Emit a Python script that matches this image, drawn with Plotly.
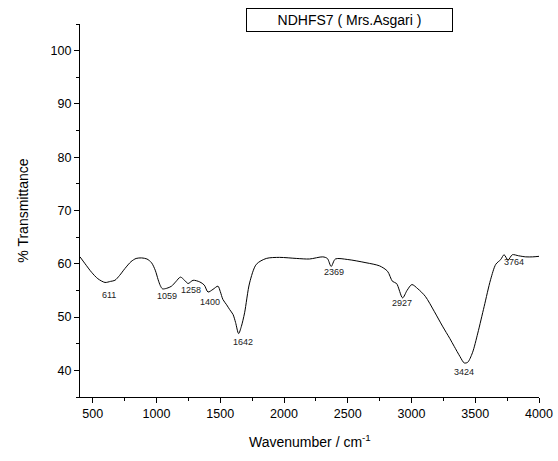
import plotly.graph_objects as go

# Spectrum (wavenumber cm^-1, % transmittance)
wavenumber = [400, 440, 491, 540, 596, 640, 674, 710, 752, 800, 840, 883, 925, 961,
              990, 1013, 1030, 1047, 1080, 1118, 1150, 1188, 1220, 1248, 1287, 1339,
              1375, 1404, 1443, 1482, 1500, 1521, 1550, 1574, 1600, 1620, 1644, 1665,
              1691, 1730, 1783, 1861, 1965, 2100, 2200, 2304, 2340, 2370, 2403, 2500,
              2643, 2750, 2812, 2851, 2883, 2930, 2965, 3003, 3050, 3108, 3180, 3243,
              3300, 3335, 3380, 3413, 3440, 3478, 3520, 3570, 3620, 3661, 3700, 3726,
              3757, 3791, 3840, 3896, 3950, 4000]
transmittance = [61.3, 60.0, 58.4, 57.2, 56.5, 56.7, 56.9, 57.8, 59.1, 60.4, 61.0, 61.1,
                 60.9, 60.2, 58.8, 57.0, 55.9, 55.3, 55.4, 55.8, 56.6, 57.5, 56.9, 56.3,
                 56.9, 56.6, 56.0, 54.7, 55.2, 55.8, 54.8, 53.3, 52.3, 51.4, 50.5, 49.0,
                 46.9, 48.2, 50.8, 56.4, 59.9, 61.0, 61.2, 61.0, 60.9, 61.3, 61.0, 59.5,
                 60.9, 60.8, 60.2, 59.6, 58.6, 56.7, 56.3, 53.6, 55.0, 56.1, 55.3, 53.9,
                 51.0, 48.3, 46.0, 44.5, 42.6, 41.4, 41.5, 43.3, 47.0, 52.0, 57.0, 59.9,
                 60.8, 61.7, 60.7, 61.7, 61.5, 61.3, 61.3, 61.4]

# Peak labels: text, label x (cm^-1), label y (%T)
peak_text = ["611", "1059", "1258", "1400", "1642", "2369", "2927", "3424", "3764"]
peak_label_x = [627, 1086, 1267, 1417, 1678, 2395, 2925, 3413, 3804]
peak_label_y = [54.2, 53.9, 55.1, 52.9, 45.3, 58.5, 52.7, 39.6, 60.3]

x_ticks = [500, 1000, 1500, 2000, 2500, 3000, 3500, 4000]
y_ticks = [40, 50, 60, 70, 80, 90, 100]

FONT = "Liberation Sans, Arial, sans-serif"

fig = go.Figure()
fig.add_trace(go.Scatter(
    x=wavenumber, y=transmittance, mode="lines",
    line=dict(color="black", width=1, shape="spline", smoothing=0.8),
    hoverinfo="skip", showlegend=False))

for t, xx, yy in zip(peak_text, peak_label_x, peak_label_y):
    fig.add_annotation(x=xx, y=yy, text=t, showarrow=False,
                       font=dict(family=FONT, size=9, color="#222"),
                       xanchor="center", yanchor="middle")

axis_common = dict(showline=True, linecolor="black", linewidth=1.2, mirror=False,
                   ticks="outside", ticklen=5, tickwidth=1, tickcolor="black",
                   showgrid=False, zeroline=False, automargin=False,
                   tickfont=dict(family=FONT, size=12.5, color="black"))

fig.update_xaxes(range=[400, 4000], tickvals=x_ticks,
                 minor=dict(dtick=250, tick0=0, ticks="outside", ticklen=3,
                            tickcolor="black", showgrid=False),
                 **axis_common)
fig.update_yaxes(range=[35, 105], tickvals=y_ticks,
                 minor=dict(dtick=5, tick0=0, ticks="outside", ticklen=3,
                            tickcolor="black", showgrid=False),
                 **axis_common)

# Boxed title
fig.add_annotation(xref="paper", yref="paper", x=0.588, y=1.011,
                   text="NDHFS7 ( Mrs.Asgari )", showarrow=False,
                   font=dict(family=FONT, size=14, color="black"),
                   bordercolor="black", borderwidth=1, borderpad=2,
                   width=201, height=18, xanchor="center", yanchor="middle")

# Axis titles
fig.add_annotation(xref="paper", yref="paper", x=0.5, y=-0.117,
                   text="Wavenumber / cm<sup>-1</sup>", showarrow=False,
                   font=dict(family=FONT, size=14, color="black"),
                   xanchor="center", yanchor="middle")
fig.add_annotation(xref="paper", yref="paper", x=-0.126, y=0.5,
                   text="% Transmittance", showarrow=False, textangle=-90,
                   font=dict(family=FONT, size=14, color="black"),
                   xanchor="center", yanchor="middle")

fig.update_layout(width=558, height=461,
                  margin=dict(l=80, r=19, t=24, b=64),
                  paper_bgcolor="white", plot_bgcolor="white")

fig.write_html("out.html")
